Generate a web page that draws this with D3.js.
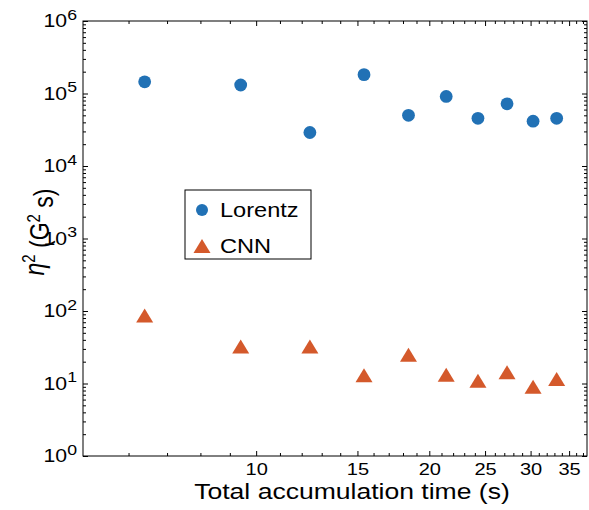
<!doctype html>
<meta charset="utf-8">

<style>
    body {
        margin: 0;
        background: #fff;
    }

    text {
        font-family: "Liberation Sans", Arial, sans-serif;
        fill: #000;
    }
</style>

<div id="chart"></div>

<script src="https://d3js.org/d3.v7.min.js"></script>

<script>

// accumulation time (s)
let times = [6.4, 9.4, 12.4, 15.4, 18.4, 21.4, 24.3, 27.3, 30.3, 33.3]
// eta^2 (G^2 s)
let lorentz = [145000, 131000, 29000, 182000, 50000, 91000, 45500, 72000, 41500, 45500]
let cnn = [87, 32.5, 32.5, 13, 25, 13.2, 10.9, 14.3, 9, 11.5]
let seriesNames = ["Lorentz", "CNN"]
let seriesColors = ["#2171b5", "#d4592b"]
let xTickValues = [10, 15, 20, 25, 30, 35]
let yDecades = [0, 1, 2, 3, 4, 5, 6]

let width = 589, height = 510
let margin = {top: 21, right: 2, bottom: 54, left: 83}
let plotWidth = width - margin.left - margin.right
let plotHeight = height - margin.top - margin.bottom

// the source figure was stretched sideways, so text is widened a little
let SX = 1.18

let svg = d3.select("#chart")
    .append("svg")
    .attr("width", width)
    .attr("height", height)

let plot = svg.append("g")
    .attr("transform", "translate(" + margin.left + "," + margin.top + ")")

let x = d3.scaleLog().domain([5, 37.6]).range([0, plotWidth])
let y = d3.scaleLog().domain([1, 1e6]).range([plotHeight, 0])

let xMinor = d3.range(6, 38).filter(v => !xTickValues.includes(v))
let yMinor = []
yDecades.slice(0, -1).forEach(e => d3.range(2, 10).forEach(k => yMinor.push(k * Math.pow(10, e))))
let yMajor = yDecades.map(e => Math.pow(10, e))

function addAxis(axis, transform) {
    return plot.append("g")
        .attr("transform", transform)
        .call(axis)
        .call(g => g.select(".domain").remove())
        .call(g => g.selectAll("line").attr("stroke", "#000"))
}

// inward ticks on all four sides
addAxis(d3.axisBottom(x).tickValues(xMinor).tickSize(-3).tickFormat(""), "translate(0," + plotHeight + ")")
addAxis(d3.axisTop(x).tickValues(xMinor).tickSize(-3).tickFormat(""), "translate(0,0)")
addAxis(d3.axisTop(x).tickValues(xTickValues).tickSize(-5).tickFormat(""), "translate(0,0)")
addAxis(d3.axisLeft(y).tickValues(yMinor).tickSize(-3).tickFormat(""), "translate(0,0)")
addAxis(d3.axisRight(y).tickValues(yMinor).tickSize(-3).tickFormat(""), "translate(" + plotWidth + ",0)")
addAxis(d3.axisRight(y).tickValues(yMajor).tickSize(-5).tickFormat(""), "translate(" + plotWidth + ",0)")

let xAxisG = addAxis(
    d3.axisBottom(x).tickValues(xTickValues).tickSize(-5).tickPadding(7).tickFormat(d3.format("d")),
    "translate(0," + plotHeight + ")")
xAxisG.attr("font-family", null).attr("font-size", null)
xAxisG.selectAll("text")
    .style("font-size", "17px")
    .attr("transform", "scale(" + SX + ",1)")

addAxis(d3.axisLeft(y).tickValues(yMajor).tickSize(-5).tickFormat(""), "translate(0,0)")

let yLabels = plot.append("g")
    .selectAll("text")
    .data(yDecades)
    .join("text")
    .attr("transform", d => "translate(-6," + y(Math.pow(10, d)) + ") scale(" + SX + ",1)")
    .attr("text-anchor", "end")
    .attr("dy", "0.36em")
    .style("font-size", "18px")
yLabels.append("tspan").text("10")
yLabels.append("tspan").attr("dy", "-0.5em").style("font-size", "15px").text(d => d)

plot.append("rect")
    .attr("width", plotWidth)
    .attr("height", plotHeight)
    .attr("fill", "none")
    .attr("stroke", "#000")
    .attr("stroke-width", 1)

// markers
let triangle = (cx, cy) => {
    let w = 8.5, h = 7
    return "M" + cx + "," + (cy - h) + "L" + (cx + w) + "," + (cy + h) + "L" + (cx - w) + "," + (cy + h) + "Z"
}

plot.append("g")
    .selectAll("circle")
    .data(times)
    .join("circle")
    .attr("cx", d => x(d))
    .attr("cy", (d, i) => y(lorentz[i]))
    .attr("r", 6.4)
    .attr("fill", seriesColors[0])

plot.append("g")
    .selectAll("path")
    .data(times)
    .join("path")
    .attr("d", (d, i) => triangle(x(d), y(cnn[i])))
    .attr("fill", seriesColors[1])

// legend
let legend = svg.append("g").attr("transform", "translate(185,190)")
legend.append("rect")
    .attr("width", 126)
    .attr("height", 69)
    .attr("fill", "#fff")
    .attr("stroke", "#000")
    .attr("stroke-width", 1)
legend.append("circle").attr("cx", 17).attr("cy", 20).attr("r", 6).attr("fill", seriesColors[0])
legend.append("path").attr("d", triangle(17, 56)).attr("fill", seriesColors[1])
legend.selectAll("text")
    .data(seriesNames)
    .join("text")
    .attr("transform", (d, i) => "translate(35," + (20 + i * 36) + ") scale(" + SX + ",1)")
    .attr("dy", "0.36em")
    .style("font-size", "20px")
    .text(d => d)

// axis titles
svg.append("text")
    .attr("transform", "translate(352,499) scale(" + SX + ",1)")
    .attr("text-anchor", "middle")
    .style("font-size", "22.5px")
    .text("Total accumulation time (s)")

let yTitle = svg.append("text")
    .attr("transform", "translate(44,232) rotate(-90) scale(1," + SX + ")")
    .attr("text-anchor", "middle")
    .style("font-size", "23px")
yTitle.append("tspan").style("font-style", "italic").text("η")
yTitle.append("tspan").attr("dy", "-0.5em").style("font-size", "15px").text("2")
yTitle.append("tspan").attr("dy", "0.5em").text(" (G")
yTitle.append("tspan").attr("dy", "-0.5em").style("font-size", "15px").text("2")
yTitle.append("tspan").attr("dy", "0.5em").text(" s)")

</script>
